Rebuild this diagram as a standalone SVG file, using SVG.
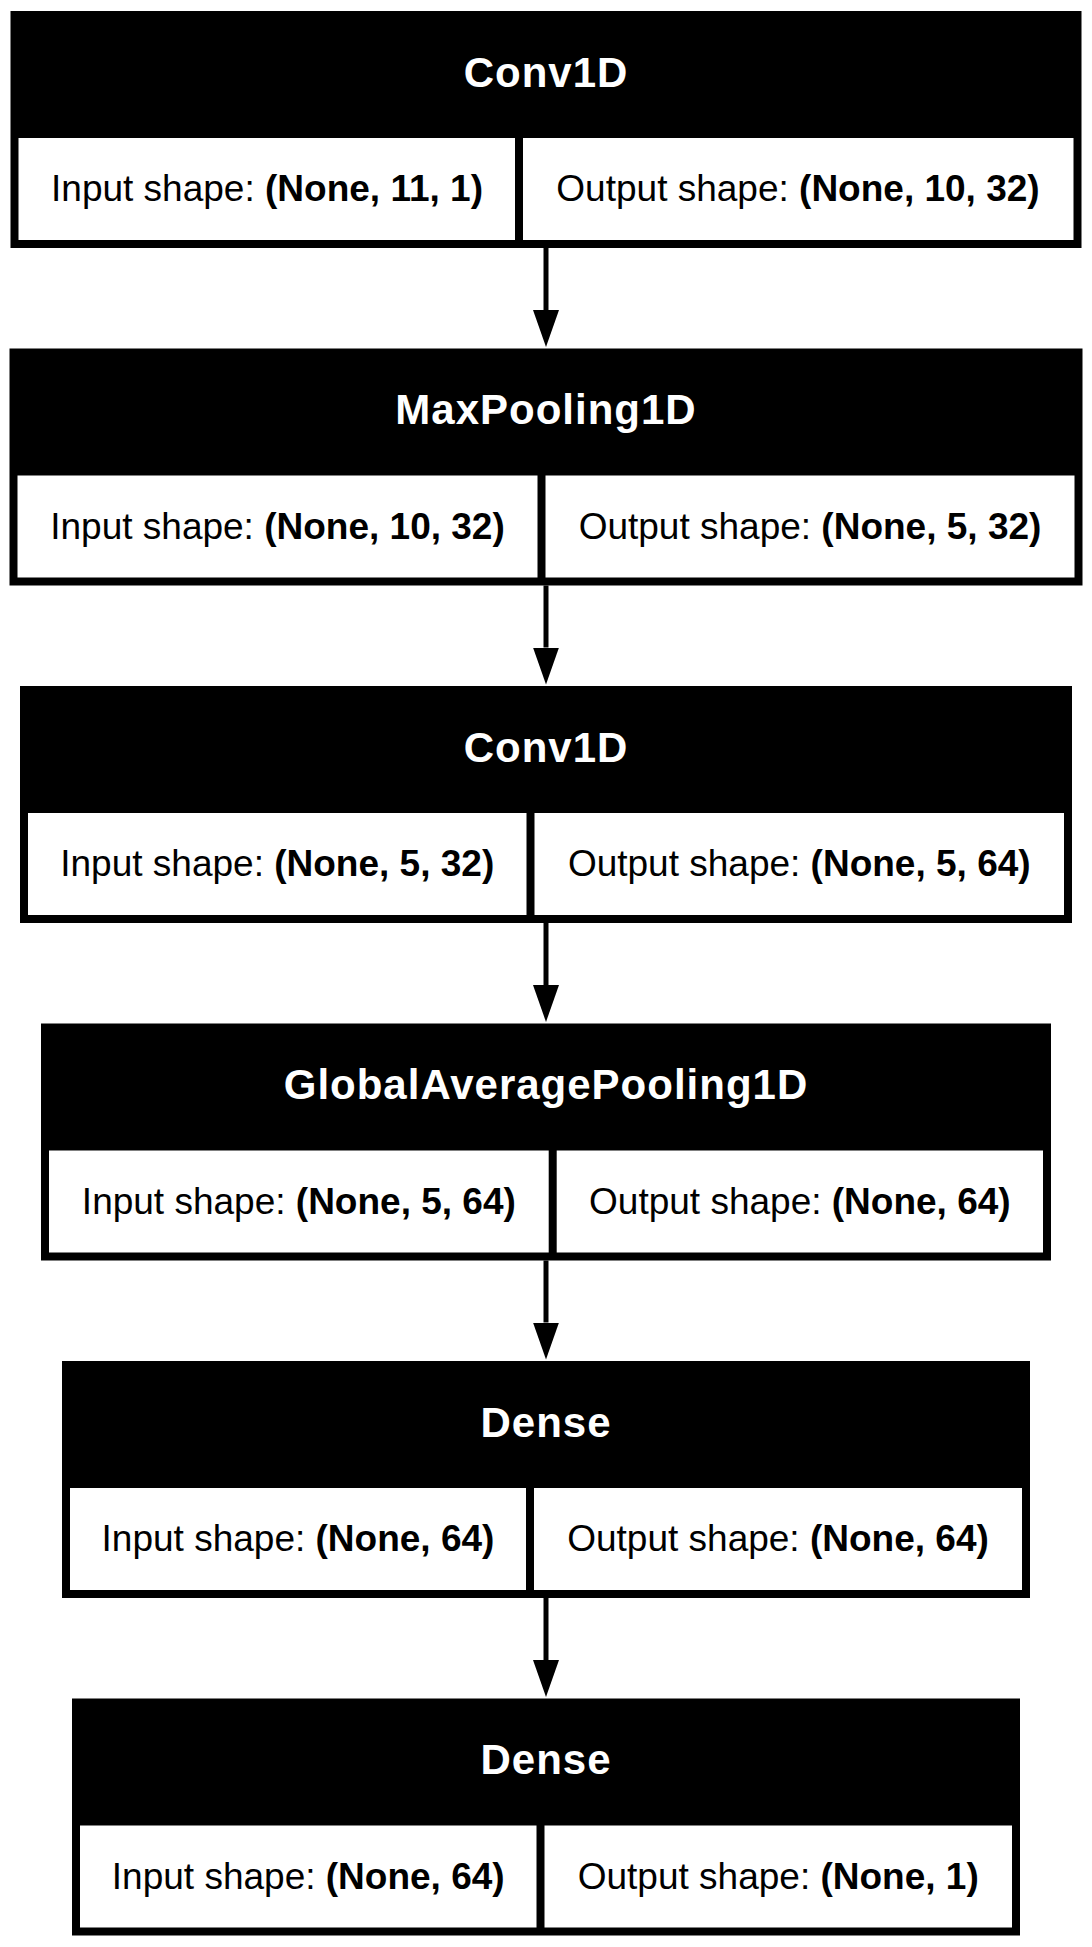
<svg xmlns="http://www.w3.org/2000/svg" width="1092" height="1947" viewBox="0 0 1092 1947">
<style>
.bg{fill:#ffffff}
.box{fill:#000000}
.cell{fill:#ffffff}
.title{font-family:"Liberation Sans",Arial,sans-serif;font-weight:bold;font-size:42px;letter-spacing:1px;fill:#ffffff;text-anchor:middle}
.shape{font-family:"Liberation Sans",Arial,sans-serif;font-size:37px;fill:#000000;text-anchor:middle}
.b{font-weight:bold}
.edge{stroke:#000000;stroke-width:5;fill:none}
</style>
<defs>
<marker id="ah" markerUnits="userSpaceOnUse" viewBox="0 0 37 26" markerWidth="37" markerHeight="26" refX="0" refY="13" orient="auto">
<path d="M0,0 L37,13 L0,26 Z" fill="#000000"/>
</marker>
</defs>
<rect class="bg" x="0" y="0" width="1092" height="1947"/>

<g id="edges">
<line class="edge" x1="546" y1="248" x2="546" y2="310" marker-end="url(#ah)"/>
<line class="edge" x1="546" y1="585.5" x2="546" y2="647.5" marker-end="url(#ah)"/>
<line class="edge" x1="546" y1="923" x2="546" y2="985" marker-end="url(#ah)"/>
<line class="edge" x1="546" y1="1260.5" x2="546" y2="1322.5" marker-end="url(#ah)"/>
<line class="edge" x1="546" y1="1598" x2="546" y2="1660" marker-end="url(#ah)"/>
</g>

<g id="node1">
<rect class="box" x="10.5" y="11" width="1071" height="237"/>
<rect class="cell" x="18.5" y="138" width="496.5" height="102"/>
<rect class="cell" x="523" y="138" width="550.5" height="102"/>
<text class="title" x="546" y="86.5">Conv1D</text>
<text class="shape" x="267" y="201">Input shape: <tspan class="b">(None, 11, 1)</tspan></text>
<text class="shape" x="798" y="201">Output shape: <tspan class="b">(None, 10, 32)</tspan></text>
</g>

<g id="node2">
<rect class="box" x="9.5" y="348.5" width="1073" height="237"/>
<rect class="cell" x="17.5" y="475.5" width="520" height="102"/>
<rect class="cell" x="545.5" y="475.5" width="529" height="102"/>
<text class="title" x="546" y="424">MaxPooling1D</text>
<text class="shape" x="277.5" y="538.5">Input shape: <tspan class="b">(None, 10, 32)</tspan></text>
<text class="shape" x="810" y="538.5">Output shape: <tspan class="b">(None, 5, 32)</tspan></text>
</g>

<g id="node3">
<rect class="box" x="20" y="686" width="1052" height="237"/>
<rect class="cell" x="28" y="813" width="498.5" height="102"/>
<rect class="cell" x="534.5" y="813" width="529.5" height="102"/>
<text class="title" x="546" y="761.5">Conv1D</text>
<text class="shape" x="277.25" y="876">Input shape: <tspan class="b">(None, 5, 32)</tspan></text>
<text class="shape" x="799.25" y="876">Output shape: <tspan class="b">(None, 5, 64)</tspan></text>
</g>

<g id="node4">
<rect class="box" x="41" y="1023.5" width="1010" height="237"/>
<rect class="cell" x="49" y="1150.5" width="499.7" height="102"/>
<rect class="cell" x="556.7" y="1150.5" width="486.3" height="102"/>
<text class="title" x="546" y="1099">GlobalAveragePooling1D</text>
<text class="shape" x="298.85" y="1213.5">Input shape: <tspan class="b">(None, 5, 64)</tspan></text>
<text class="shape" x="799.85" y="1213.5">Output shape: <tspan class="b">(None, 64)</tspan></text>
</g>

<g id="node5">
<rect class="box" x="62" y="1361" width="968" height="237"/>
<rect class="cell" x="70" y="1488" width="456" height="102"/>
<rect class="cell" x="534" y="1488" width="488" height="102"/>
<text class="title" x="546" y="1436.5">Dense</text>
<text class="shape" x="298" y="1551">Input shape: <tspan class="b">(None, 64)</tspan></text>
<text class="shape" x="778" y="1551">Output shape: <tspan class="b">(None, 64)</tspan></text>
</g>

<g id="node6">
<rect class="box" x="72" y="1698.5" width="948" height="237"/>
<rect class="cell" x="80" y="1825.5" width="456.5" height="102"/>
<rect class="cell" x="544.5" y="1825.5" width="467.5" height="102"/>
<text class="title" x="546" y="1774">Dense</text>
<text class="shape" x="308.25" y="1888.5">Input shape: <tspan class="b">(None, 64)</tspan></text>
<text class="shape" x="778.25" y="1888.5">Output shape: <tspan class="b">(None, 1)</tspan></text>
</g>
</svg>
